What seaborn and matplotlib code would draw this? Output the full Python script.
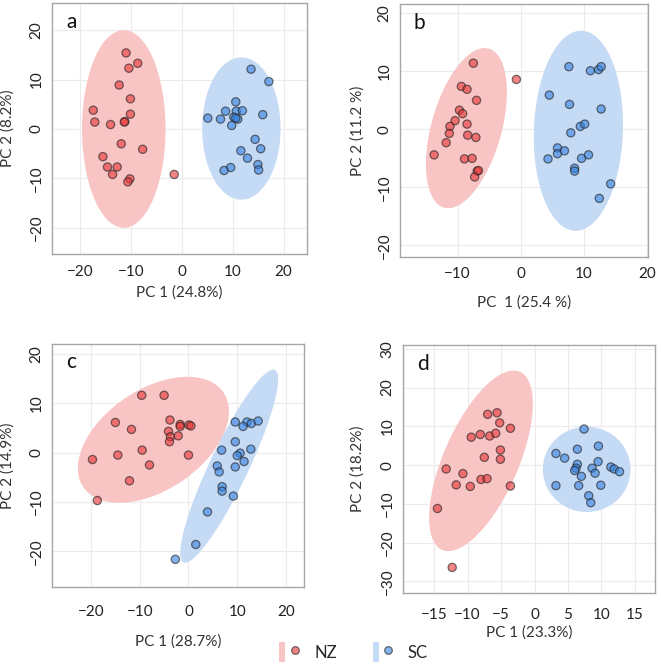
import numpy as np
import pandas as pd
import matplotlib
matplotlib.use("Agg")
import matplotlib.pyplot as plt
import seaborn as sns
from matplotlib.patches import Patch
from matplotlib.lines import Line2D
from matplotlib.legend_handler import HandlerTuple

# ================= DATOS =================
# Panel a
a_nz_x = [-10.95, -8.66, -10.4, -12.3, -10.1, -17.4, -10.1, -17.1, -11.2, -11.3,
          -14.0, -11.9, -7.7, -15.5, -14.6, -12.7, -13.6, -10.2, -10.6, -1.5]
a_nz_y = [15.4, 13.3, 12.3, 8.9, 6.1, 3.8, 3.0, 1.4, 1.5, 1.4,
          0.9, -3.0, -4.1, -5.6, -7.7, -7.7, -9.2, -10.1, -10.7, -9.2]
a_sc_x = [13.6, 17.1, 10.6, 8.6, 10.7, 11.9, 15.9, 5.1, 7.6, 10.2, 11.0,
          10.6, 9.8, 14.4, 15.5, 11.6, 12.9, 14.95, 15.1, 9.6, 8.3]
a_sc_y = [12.1, 9.6, 5.5, 3.6, 3.6, 3.7, 2.9, 2.2, 2.0, 2.4, 2.0,
          2.2, 0.7, -2.1, -4.0, -4.4, -5.9, -7.2, -8.3, -7.8, -8.4]

# Panel b
b_nz_x = [-7.5, -0.7, -9.4, -8.5, -7.0, -9.7, -9.2, -10.4, -11.2, -8.5,
          -11.3, -11.8, -8.4, -7.1, -13.7, -8.9, -7.7, -6.9, -6.7, -7.3]
b_nz_y = [11.4, 8.6, 7.4, 6.9, 5.0, 3.3, 2.7, 1.5, 0.5, 0.9,
          -0.7, -2.3, -1.0, -1.4, -4.4, -5.1, -5.0, -7.2, -7.1, -8.2]
b_sc_x = [7.6, 11.0, 12.3, 12.7, 4.5, 7.7, 12.7, 9.4, 10.1, 7.9,
          5.8, 5.8, 6.9, 4.3, 9.6, 10.7, 8.5, 8.5, 14.2, 12.4]
b_sc_y = [10.8, 10.1, 10.3, 10.8, 5.9, 4.3, 3.5, 0.5, 0.9, -0.6,
          -3.2, -4.2, -3.7, -5.1, -5.0, -4.4, -6.7, -7.2, -9.4, -11.9]

# Panel c
c_nz_x = [-9.6, -5.0, -15.0, -11.7, -3.8, -4.1, -3.7, -3.9, -1.7, -1.7,
          -2.1, 0.1, 0.5, -19.7, -14.5, -9.5, -8.0, 0.0, -12.1, -18.7]
c_nz_y = [11.6, 11.6, 6.1, 4.7, 6.6, 4.3, 3.2, 2.2, 5.7, 5.3,
          3.4, 5.6, 5.4, -1.4, -0.5, 0.5, -2.5, -0.5, -5.7, -9.7]
c_sc_x = [9.6, 12.0, 11.2, 12.9, 14.3, 9.6, 6.8, 12.8, 10.6, 10.0,
          9.6, 11.4, 5.9, 6.3, 6.9, 6.9, 9.2, 3.9, 1.5, -2.7]
c_sc_y = [6.2, 6.2, 5.3, 5.9, 6.4, 2.2, 0.5, 0.7, -0.1, -0.6,
          -2.9, -1.8, -2.7, -3.9, -6.9, -7.8, -8.8, -12.0, -18.6, -21.6]

# Panel d
d_nz_x = [-7.0, -5.6, -5.2, -3.6, -9.45, -8.1, -6.7, -5.8, -5.1, -7.5,
          -5.1, -13.2, -10.7, -11.7, -9.6, -8.0, -7.1, -3.6, -14.5, -12.3]
d_nz_y = [13.1, 13.5, 10.9, 9.5, 7.2, 7.9, 7.5, 8.2, 3.9, 2.0,
          1.5, -1.0, -2.2, -5.1, -5.5, -3.7, -3.5, -5.4, -11.2, -26.4]
d_sc_x = [7.4, 3.2, 4.5, 6.4, 9.55, 9.5, 6.4, 6.2, 6.0, 7.0,
          8.6, 9.05, 11.4, 11.9, 12.7, 3.2, 6.6, 9.9, 8.1, 8.4]
d_sc_y = [9.3, 3.0, 1.8, 4.1, 4.9, 0.9, 0.2, -0.8, -1.4, -2.9,
          -0.8, -2.1, -0.5, -1.0, -1.7, -5.3, -5.3, -5.2, -7.9, -9.7]

# Elipses de confianza: centro x, centro y, semiancho x, semialto y, correlación
elip_nz = {'a': [-11.4, 0.0, 8.2, 20.0, 0.0],
           'b': [-8.6, 0.2, 6.4, 13.8, 0.45],
           'c': [-7.2, 2.6, 15.5, 12.75, 0.45],
           'd': [-8.0, 1.1, 7.75, 23.3, 0.63]}
elip_sc = {'a': [11.7, 0.1, 7.7, 14.4, 0.0],
           'b': [9.1, -0.25, 7.05, 17.25, 0.06],
           'c': [8.35, -2.75, 10.05, 19.55, 0.9],
           'd': [7.8, -1.1, 6.55, 11.0, 0.0]}

x_labels = {'a': 'PC 1 (24.8%)', 'b': 'PC  1 (25.4 %)', 'c': 'PC 1 (28.7%)', 'd': 'PC 1 (23.3%)'}
y_labels = {'a': 'PC 2 (8.2%)', 'b': 'PC 2 (11.2 %)', 'c': 'PC 2 (14.9%)', 'd': 'PC 2 (18.2%)'}
x_ticks = {'a': [-20, -10, 0, 10, 20], 'b': [-10, 0, 10, 20],
           'c': [-20, -10, 0, 10, 20], 'd': [-15, -10, -5, 0, 5, 10, 15]}
y_ticks = {'a': [-20, -10, 0, 10, 20], 'b': [-20, -10, 0, 10, 20],
           'c': [-20, -10, 0, 10, 20], 'd': [-30, -20, -10, 0, 10, 20, 30]}

puntos = {'a': (a_nz_x, a_nz_y, a_sc_x, a_sc_y),
          'b': (b_nz_x, b_nz_y, b_sc_x, b_sc_y),
          'c': (c_nz_x, c_nz_y, c_sc_x, c_sc_y),
          'd': (d_nz_x, d_nz_y, d_sc_x, d_sc_y)}

# ================= ESTILO =================
sns.set_style("whitegrid")
plt.rcParams['font.family'] = ['Lato', 'DejaVu Sans']

col_pt = {'NZ': '#E8393B', 'SC': '#3A85E0'}
col_elip = {'NZ': '#F8C4C4', 'SC': '#C5DAF5'}

# posiciones de los paneles [left, bottom, width, height] y límites
layout = {'a': ([0.0787, 0.6198, 0.3858, 0.3757], (-25.5, 24.6), (-25.3, 25.5)),
          'b': ([0.6051, 0.6153, 0.3752, 0.3787], (-19.1, 20.1), (-22.0, 21.6)),
          'c': ([0.0787, 0.1213, 0.3812, 0.3638], (-28.0, 23.7), (-27.2, 22.0)),
          'd': ([0.6097, 0.1123, 0.3812, 0.3713], (-19.65, 18.0), (-33.0, 31.0))}
# separación de etiquetas (pad de ticks, posición del xlabel, posición del ylabel)
pads = {'a': (5, -0.155, -0.175), 'b': (4, -0.18, -0.17),
        'c': (10, -0.225, -0.175), 'd': (8, -0.16, -0.18)}


def dibujar_elipse(ax, params, color):
    cx, cy, sx, sy, r = params
    cov = np.array([[sx ** 2, r * sx * sy], [r * sx * sy, sy ** 2]])
    L = np.linalg.cholesky(cov)
    t = np.linspace(0, 2 * np.pi, 200)
    circ = np.vstack([np.cos(t), np.sin(t)])
    pts = L @ circ
    ax.fill(cx + pts[0], cy + pts[1], color=color, lw=0, zorder=1)


fig = plt.figure(figsize=(6.61, 6.68), dpi=100)

for panel in ['a', 'b', 'c', 'd']:
    rect, xl, yl = layout[panel]
    ax = fig.add_axes(rect)
    nzx, nzy, scx, scy = puntos[panel]
    df = pd.concat([
        pd.DataFrame({'x': nzx, 'y': nzy, 'grupo': 'NZ'}),
        pd.DataFrame({'x': scx, 'y': scy, 'grupo': 'SC'}),
    ], ignore_index=True)

    dibujar_elipse(ax, elip_nz[panel], col_elip['NZ'])
    dibujar_elipse(ax, elip_sc[panel], col_elip['SC'])

    sns.scatterplot(data=df, x='x', y='y', hue='grupo', palette=col_pt,
                    s=35, alpha=0.62, edgecolor='#202020', linewidth=0.9,
                    legend=False, ax=ax, zorder=3)

    ax.set_xlim(xl)
    ax.set_ylim(yl)
    ax.set_xticks(x_ticks[panel])
    ax.set_yticks(y_ticks[panel])
    ax.grid(True, color='#EBEBEB', linewidth=0.8)
    ax.set_axisbelow(True)
    for s in ax.spines.values():
        s.set_color('#A6A6A6')
        s.set_linewidth(1.0)

    tp = pads[panel][0]
    ax.tick_params(axis='both', length=3, color='#A6A6A6', labelsize=11,
                   labelcolor='#222222', pad=tp, direction='out')
    ax.tick_params(axis='y', labelrotation=90, pad=3)
    for lab in ax.get_yticklabels():
        lab.set_va('center')

    ax.set_xlabel(x_labels[panel], fontsize=11, color='#333333')
    ax.set_ylabel(y_labels[panel], fontsize=11, color='#333333')
    ax.xaxis.set_label_coords(0.5, pads[panel][1])
    ax.xaxis.label.set_va('center')
    ax.yaxis.set_label_coords(pads[panel][2], 0.5)
    ax.yaxis.label.set_va('center')

    ax.text(0.055, 0.925, panel, transform=ax.transAxes, fontsize=15,
            ha='left', va='center', color='#111111')

# ================= LEYENDA =================
handles = []
for g in ['NZ', 'SC']:
    fondo = Patch(facecolor=col_elip[g], edgecolor='none')
    punto = Line2D([], [], marker='o', linestyle='', markersize=5.5,
                   markerfacecolor=col_pt[g], markeredgecolor='#202020',
                   alpha=0.62, markeredgewidth=0.9)
    handles.append((fondo, punto))

fig.legend(handles, ['NZ', 'SC'], handler_map={tuple: HandlerTuple(ndivide=None)},
           loc='center', bbox_to_anchor=(0.535, 0.024), ncol=2, frameon=False,
           fontsize=12, handlelength=1.1, handleheight=1.4, columnspacing=2.15,
           handletextpad=1.0)

fig.savefig('out.png', dpi=100)
